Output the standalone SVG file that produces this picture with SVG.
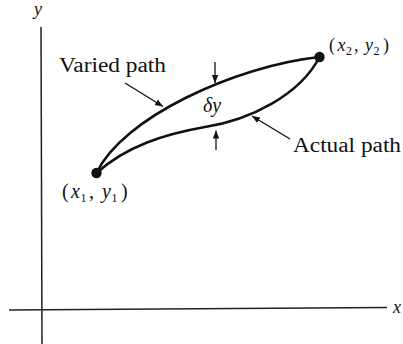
<svg xmlns="http://www.w3.org/2000/svg" width="403" height="344" viewBox="0 0 403 344">
<style>
text{font-family:"Liberation Serif","Times New Roman",serif;fill:#111}
.it{font-style:italic}
.axis{stroke:#222;stroke-width:1.5;fill:none}
.curve{stroke:#111;stroke-width:2.6;fill:none}
.lead{stroke:#111;stroke-width:1.3;fill:none}
.sub{font-size:12px}
</style>
<defs>
<marker id="ah" viewBox="0 0 10 10" refX="10" refY="5" markerWidth="8" markerHeight="8" markerUnits="userSpaceOnUse" orient="auto">
<path d="M0,1 L10,5 L0,9 Z" fill="#111"/>
</marker>
</defs>
<g id="axes">
<line class="axis" x1="41" y1="27" x2="42" y2="344"/>
<line class="axis" x1="9" y1="310" x2="387" y2="307.5"/>
<text class="it" x="34" y="15" font-size="18">y</text>
<text class="it" x="393" y="313" font-size="18">x</text>
</g>
<g id="connectors">
<path id="varied" class="curve" d="M96.5,173 C122,118 235,66 319.5,57"/>
<path id="actual" class="curve" d="M96.5,173 C126.5,146 165,134 205,127 C250,120 300,95 319.5,57"/>
<line class="lead" x1="125" y1="83" x2="163" y2="106.5" marker-end="url(#ah)"/>
<line class="lead" x1="290" y1="139" x2="252" y2="116" marker-end="url(#ah)"/>
<line class="lead" x1="215" y1="62" x2="215" y2="83" marker-end="url(#ah)"/>
<line class="lead" x1="216" y1="150" x2="216" y2="130.5" marker-end="url(#ah)"/>
</g>
<g id="p1">
<circle cx="96.5" cy="173" r="5.2" fill="#111"/>
<text class="it" y="198" font-size="20"><tspan x="62" font-style="normal">(</tspan><tspan x="71">x</tspan><tspan x="80.5" dy="4" class="sub" font-style="normal">1</tspan><tspan x="89" dy="-4" font-style="normal">,</tspan><tspan x="102">y</tspan><tspan x="111.5" dy="4" class="sub" font-style="normal">1</tspan><tspan x="121" dy="-4" font-style="normal">)</tspan></text>
</g>
<g id="p2">
<circle cx="319.5" cy="57" r="5.2" fill="#111"/>
<text class="it" y="51" font-size="18"><tspan x="329" font-style="normal">(</tspan><tspan x="337.5">x</tspan><tspan x="346" dy="4" class="sub" font-style="normal">2</tspan><tspan x="354" dy="-4" font-style="normal">,</tspan><tspan x="365">y</tspan><tspan x="373.5" dy="4" class="sub" font-style="normal">2</tspan><tspan x="383" dy="-4" font-style="normal">)</tspan></text>
</g>
<g id="label-varied">
<text x="59" y="72" font-size="20" textLength="107" lengthAdjust="spacingAndGlyphs">Varied path</text>
</g>
<g id="label-actual">
<text x="293" y="152" font-size="20" textLength="108" lengthAdjust="spacingAndGlyphs">Actual path</text>
</g>
<g id="label-delta">
<text class="it" x="203" y="112" font-size="20">δy</text>
</g>
</svg>
